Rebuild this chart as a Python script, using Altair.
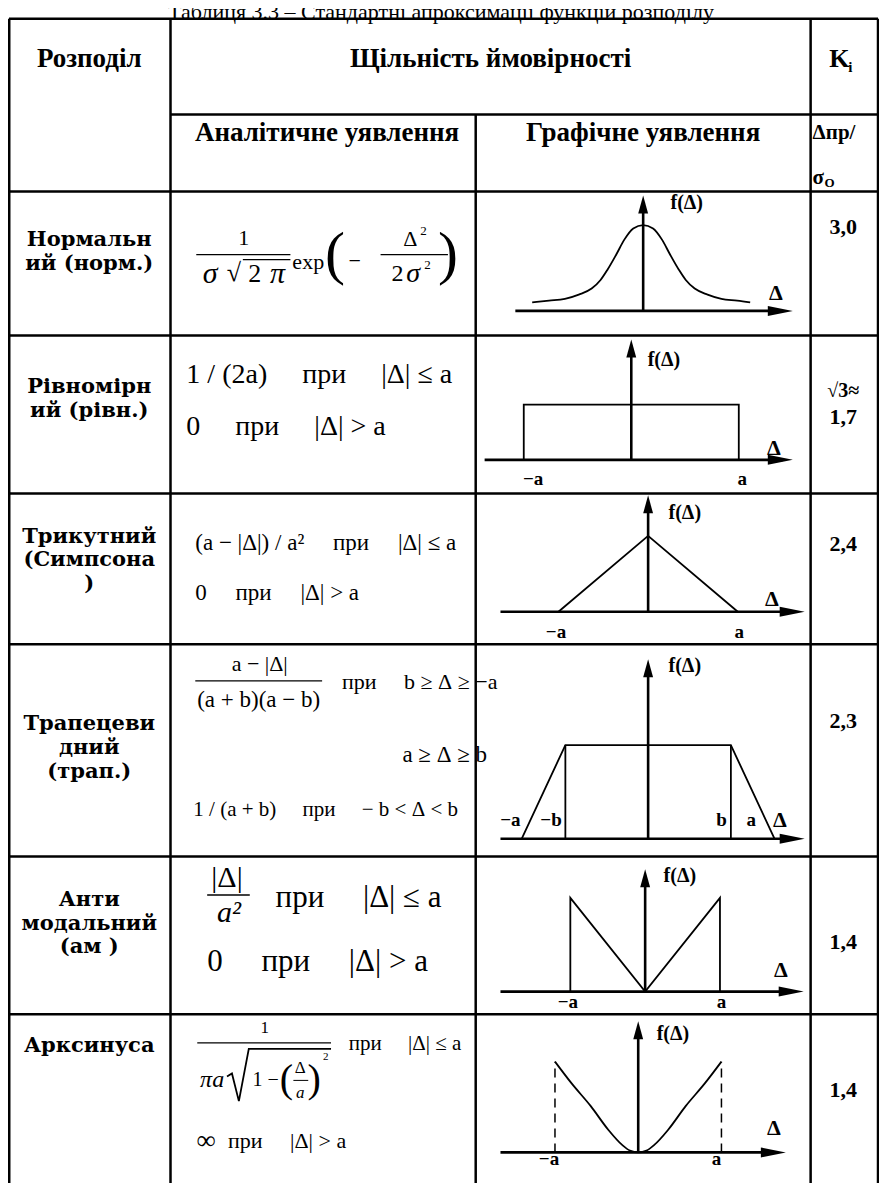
import altair as alt
import pandas as pd

# ---------------- page / scale set-up (reference pixel space) ----------------
W, H = 871, 1175
XS = alt.Scale(domain=[8, 887], nice=False, zero=False)
YS = alt.Scale(domain=[0, 1191], nice=False, zero=False, reverse=True)

# ---------------- table frame ----------------
col_x = [9, 172, 480, 818, 886]
top_y, div_y, head_y = 11, 108, 186
row_y = [332, 492, 645, 860, 1020]
bottom_y = 1191

# ---------------- texts ----------------
title_text = "Таблиця 3.3 – Стандартні апроксимації функцій розподілу"
header_top = ["Розподіл", "Щільність ймовірності"]
header_sub = ["Аналітичне уявлення", "Графічне уявлення"]
row_names = [["Нормальн", "ий (норм.)"], ["Рівномірн", "ий (рівн.)"],
             ["Трикутний", "(Симпсона", ")"], ["Трапецеви", "дний", "(трап.)"],
             ["Анти", "модальний", "(ам )"], ["Арксинуса"]]
row_name_y = [[235, 259], [384, 408], [536, 560, 584], [726, 750, 774],
              [904, 928, 952], [1052]]
k_values = ["3,0", "1,7", "2,4", "2,3", "1,4", "1,4"]
k_y = [222, 415, 543, 723, 947, 1097]

# diagram shapes in (Δ, f) units, a = 1
norm_d = [-1.12, -0.95, -0.79, -0.65, -0.52, -0.43, -0.36, -0.27, -0.19, -0.10, 0.0,
          0.10, 0.19, 0.27, 0.36, 0.43, 0.52, 0.65, 0.79, 0.95, 1.08]
norm_f = [0.10, 0.12, 0.14, 0.19, 0.26, 0.36, 0.48, 0.66, 0.83, 0.96, 1.0,
          0.96, 0.83, 0.66, 0.48, 0.36, 0.26, 0.19, 0.14, 0.12, 0.10]
unif_d = [-1, -1, 1, 1]
unif_f = [0, 0.5, 0.5, 0]
tri_d = [-1, 0, 1]
tri_f = [0, 1, 0]
b_ratio = 0.655
trap_h = 1 / (1 + b_ratio)
trap_d = [-1, -b_ratio, b_ratio, 1]
trap_f = [0, trap_h, trap_h, 0]
anti_d = [-1, -1, 0, 1, 1]
anti_f = [0, 1, 0, 1, 0]
arcs_d = [-1.0, -0.8, -0.57, -0.36, -0.19, -0.1, 0.0, 0.1, 0.19, 0.36, 0.57, 0.8, 1.0]
arcs_f = [1.0, 0.76, 0.51, 0.25, 0.08, 0.02, 0.0, 0.02, 0.08, 0.25, 0.51, 0.76, 1.0]

# per-row diagram geometry: origin x, axis y, h-axis start, h tip, v tip, sx, sy
geo = [
    (649, 307, 520, 800, 190, 100, 87),
    (637, 458, 489, 800, 336, 108.5, 112),
    (654, 612, 505, 812, 494, 90.5, 77),
    (654, 842, 505, 812, 660, 127.5, 157),
    (651, 997, 505, 811, 873, 75.5, 95),
    (644, 1160, 505, 793, 1027, 84, 92),
]

NB = "\u00a0"
texts = []


def add(t, x, y, s, st, al="center"):
    texts.append(dict(t=t.replace(" ", NB), x=x, y=y, s=s, st=st, al=al))


G = "     "  # wide gap around "при"

add(title_text, 445, 4, 22, "title")
add(header_top[0], 90, 52, 27, "hb")
add(header_top[1], 495, 52, 27, "hb")
add("K", 847, 52, 26, "hb")
add("i", 856, 60, 15, "hb", "left")
add(header_sub[0], 330, 127, 27, "hb")
add(header_sub[1], 649, 127, 27, "hb")
add("Δпр/", 820, 127, 21, "hb", "left")
add("σ", 820, 172, 21, "hb", "left")
add("O", 832, 177, 13, "hb", "left")

for names, ys in zip(row_names, row_name_y):
    for n, yy in zip(names, ys):
        add(n, 90, yy, 21, "nm")

for v, yy in zip(k_values, k_y):
    add(v, 851, yy, 22, "hb")
add("√3≈", 851, 388, 20, "hb")

# row 1 formula
add("1", 246, 233, 22, "f")
add("σ", 212, 270, 30, "fi")
add("√", 236, 269, 26, "f")
add("2", 257, 270, 26, "f")
add("π", 280, 270, 30, "fi")
add("exp", 311, 257, 22, "f")
add("(", 338, 250, 60, "f")
add("−", 358, 256, 22, "f")
add("Δ", 414, 234, 22, "f")
add("2", 424, 226, 13, "f", "left")
add("2", 401, 270, 24, "f")
add("σ", 417, 270, 28, "fi")
add("2", 428, 261, 13, "f", "left")
add(")", 452, 250, 60, "f")
# row 2
add("1 / (2a)" + G + "при" + G + "|Δ| ≤ a", 188, 372, 28, "f", "left")
add("0" + G + "при" + G + "|Δ| > a", 188, 425, 28, "f", "left")
# row 3
add("(a − |Δ|) / a²" + G + "при" + G + "|Δ| ≤ a", 197, 542, 23, "f", "left")
add("0" + G + "при" + G + "|Δ| > a", 197, 593, 23, "f", "left")
# row 4
add("a − |Δ|", 262, 665, 22, "f")
add("(a + b)(a − b)", 261, 701, 23, "f")
add("при" + G + "b ≥ Δ ≥ −a", 345, 683, 22, "f", "left")
add("a ≥ Δ ≥ b", 406, 757, 23, "f", "left")
add("1 / (a + b)" + G + "при" + G + "− b < Δ < b", 195, 813, 21, "f", "left")
# row 5
add("|Δ|", 229, 882, 30, "f")
add("a²", 231, 917, 30, "fi")
add("при" + G + "|Δ| ≤ a", 278, 902, 31, "f", "left")
add("0" + G + "при" + G + "|Δ| > a", 209, 967, 31, "f", "left")
# row 6
add("1", 267, 1034, 17, "f")
add("πa", 214, 1087, 24, "fi")
add("1 −", 268, 1087, 20, "f")
add("(", 289, 1087, 40, "f")
add("Δ", 303, 1074, 17, "f")
add("a", 303, 1100, 17, "fi")
add(")", 317, 1087, 40, "f")
add("2", 326, 1063, 11, "f", "left")
add("при" + G + "|Δ| ≤ a", 352, 1050, 21, "f", "left")
add("∞", 208, 1148, 27, "f")
add("при" + G + "|Δ| > a", 230, 1148, 22, "f", "left")

# diagram labels
lab = [
    [("f(Δ)", 693, 198), ("Δ", 783, 289)],
    [("f(Δ)", 670, 357), ("Δ", 781, 446), ("−a", 538, 477), ("a", 749, 477)],
    [("f(Δ)", 691, 512), ("Δ", 779, 599), ("−a", 561, 632), ("a", 746, 632)],
    [("f(Δ)", 691, 667), ("−a", 515, 823), ("−b", 556, 823), ("b", 728, 823),
     ("a", 758, 823), ("Δ", 787, 823)],
    [("f(Δ)", 686, 880), ("Δ", 788, 975), ("−a", 573, 1008), ("a", 728, 1008)],
    [("f(Δ)", 679, 1040), ("Δ", 781, 1135), ("−a", 554, 1167), ("a", 723, 1167)],
]
for row in lab:
    for t, x, y in row:
        add(t, x, y, 22 if t == "Δ" else (20 if t.startswith("f") else 19), "hb")

df_text = pd.DataFrame(texts)

# ---------------- rules (grid, axes, fraction bars) ----------------
rules = []


def rule(x, y, x2, y2, w):
    rules.append(dict(x=x, y=y, x2=x2, y2=y2, w=w))


rule(col_x[0], top_y, col_x[-1], top_y, 2.5)
rule(col_x[1], div_y, col_x[-1], div_y, 2.5)
rule(col_x[0], head_y, col_x[-1], head_y, 2.5)
for yy in row_y:
    rule(col_x[0], yy, col_x[-1], yy, 2.5)
for xx in [col_x[0], col_x[1], col_x[3], col_x[4]]:
    rule(xx, top_y, xx, bottom_y, 3 if xx == col_x[0] else 2.5)
rule(col_x[2], div_y, col_x[2], bottom_y, 2.5)

# fraction bars & overlines
rule(198, 250, 293, 250, 1.3)
rule(245, 255, 293, 255, 1.2)
rule(384, 250, 452, 250, 1.3)
rule(197, 682, 325, 682, 1.2)
rule(209, 899, 252, 899, 1.5)
rule(199, 1049, 334, 1049, 1.1)
rule(296, 1087, 311, 1087, 1.0)

arrows_r, arrows_u = [], []
for ox, ay, hs, ht, vt, sx, sy in geo:
    rule(hs, ay, ht - 10, ay, 2.6)
    rule(ox, ay, ox, vt + 8, 2.6)
    arrows_r.append(dict(x=ht, y=ay))
    arrows_u.append(dict(x=ox, y=vt))

df_rules = pd.DataFrame(rules)

# ---------------- diagram polylines ----------------
lines, curves, dashes = [], [], []


def poly(store, seg, ds, fs, g):
    ox, ay, _, _, _, sx, sy = g
    for i, (d, f) in enumerate(zip(ds, fs)):
        store.append(dict(x=ox + d * sx, y=ay - f * sy, seg=seg, ord=i))


poly(curves, "norm", norm_d, norm_f, geo[0])
poly(lines, "unif", unif_d, unif_f, geo[1])
poly(lines, "tri", tri_d, tri_f, geo[2])
poly(lines, "trap", trap_d, trap_f, geo[3])
poly(lines, "trap_l", [-b_ratio, -b_ratio], [0, trap_h], geo[3])
poly(lines, "trap_r", [b_ratio, b_ratio], [0, trap_h], geo[3])
poly(lines, "anti", anti_d, anti_f, geo[4])
poly(curves, "arcs", arcs_d, arcs_f, geo[5])
poly(dashes, "arcs_l", [-1, -1], [0, 1], geo[5])
poly(dashes, "arcs_r", [1, 1], [0, 1], geo[5])

# radical sign of the arcsine formula
rad_x = [229, 234, 241, 251, 334]
rad_y = [1083, 1080, 1108, 1055, 1055]
for i, (x, y) in enumerate(zip(rad_x, rad_y)):
    lines.append(dict(x=x, y=y, seg="rad", ord=i))

df_lines = pd.DataFrame(lines)
df_curves = pd.DataFrame(curves)
df_dashes = pd.DataFrame(dashes)

X = lambda f="x": alt.X(f + ":Q", scale=XS, axis=None)
Y = lambda f="y": alt.Y(f + ":Q", scale=YS, axis=None)

layers = []
layers.append(
    alt.Chart(df_rules).mark_rule(color="black").encode(
        x=X(), y=Y(), x2="x2:Q", y2="y2:Q",
        strokeWidth=alt.StrokeWidth("w:Q", scale=None, legend=None))
)
layers.append(
    alt.Chart(df_lines).mark_line(color="black", strokeWidth=1.8, interpolate="linear").encode(
        x=X(), y=Y(), detail="seg:N", order="ord:Q")
)
layers.append(
    alt.Chart(df_curves).mark_line(color="black", strokeWidth=1.8, interpolate="monotone").encode(
        x=X(), y=Y(), detail="seg:N", order="ord:Q")
)
layers.append(
    alt.Chart(df_dashes).mark_line(color="black", strokeWidth=1.5, strokeDash=[9, 6]).encode(
        x=X(), y=Y(), detail="seg:N", order="ord:Q")
)
layers.append(
    alt.Chart(pd.DataFrame(arrows_r)).mark_point(
        shape="M-2,-0.4L0,0L-2,0.4Z", filled=True, size=625, color="black",
        opacity=1, strokeWidth=0).encode(x=X(), y=Y())
)
layers.append(
    alt.Chart(pd.DataFrame(arrows_u)).mark_point(
        shape="M-0.55,2L0,0L0.55,2Z", filled=True, size=324, color="black",
        opacity=1, strokeWidth=0).encode(x=X(), y=Y())
)

styles = {
    "title": dict(font="Liberation Serif", fontWeight="normal"),
    "hb": dict(font="Liberation Serif", fontWeight="bold"),
    "nm": dict(font="DejaVu Serif", fontWeight="bold"),
    "f": dict(font="Liberation Serif", fontWeight="normal"),
    "fi": dict(font="Liberation Serif", fontWeight="normal", fontStyle="italic"),
}
for (st, al), sub in df_text.groupby(["st", "al"]):
    layers.append(
        alt.Chart(sub).mark_text(baseline="middle", align=al, color="black",
                                 clip=(st == "title"), **styles[st]).encode(
            x=X(), y=Y(), text="t:N",
            size=alt.Size("s:Q", scale=None, legend=None))
    )

chart = alt.layer(*layers).properties(
    width=W, height=H, padding=0, autosize="none", background="white"
).configure_view(stroke=None)

chart.save("out.html", embed_options={"renderer": "svg", "actions": False})
